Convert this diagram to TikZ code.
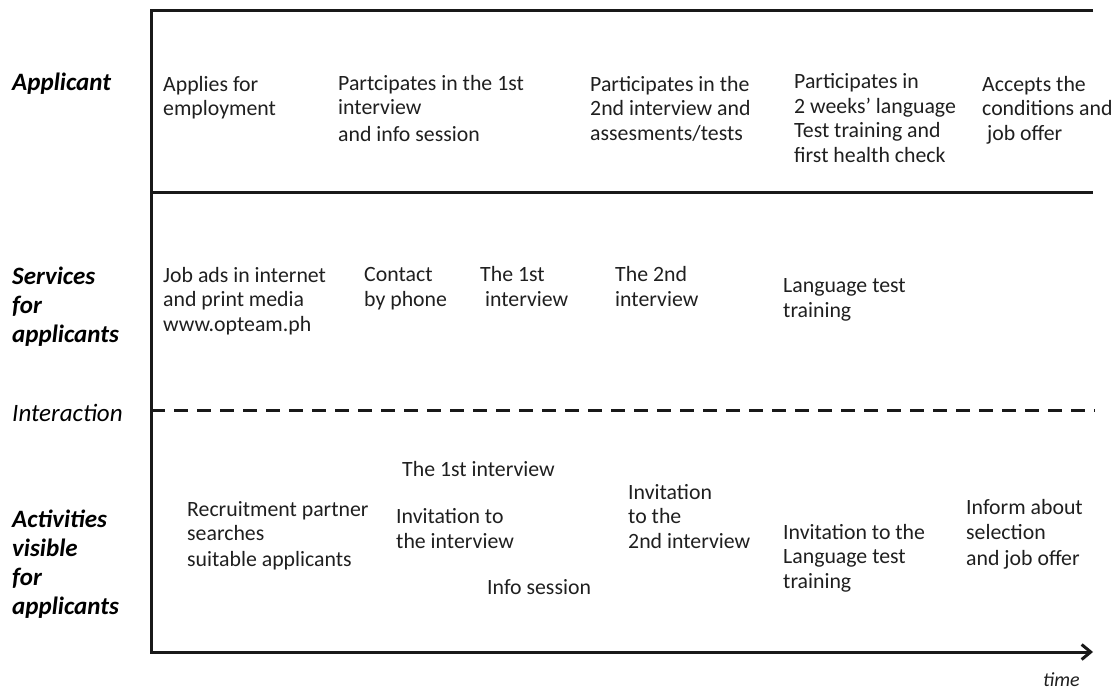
\documentclass[tikz,border=0pt]{standalone}
\usepackage{fontspec}
\setmainfont{Carlito}
\usetikzlibrary{arrows.meta}

% every text is placed at the baseline of its last line
\tikzset{
  txt/.style={anchor=base west, inner sep=0pt, align=left, text=black!88, font=\fontsize{21.8}{24.5}\selectfont},
  lane/.style={anchor=base west, inner sep=0pt, align=left, font=\fontsize{25}{29}\selectfont\bfseries\itshape},
  frame/.style={line width=3pt, black!90},
}

\begin{document}
\begin{tikzpicture}[x=1pt, y=-1pt]
    \useasboundingbox (0,0) rectangle (1120,693);
    % lanes on the left
    \node[lane] (l1) at (12,91) {Applicant};
    \node[lane] (l2) at (12,342) {Services\\for\\applicants};
    \node[lane, font=\fontsize{25}{29}\selectfont\itshape] (l3) at (12,421) {Interaction};
    \node[lane] (l4) at (12,614) {Activities\\visible\\for\\applicants};
    % applicant
    \node[txt] (a1) at (163,116) {Applies for\\employment};
    \node[txt] (a2) at (338,141) {Partcipates in the 1st\\interview\\[2pt]and info session};
    \node[txt] (a3) at (590,140) {Participates in the\\2nd interview and\\assesments/tests};
    \node[txt] (a4) at (794,162) {Participates in\\2 weeks' language\\Test training and\\first health check};
    \node[txt] (a5) at (982,140) {Accepts the\\conditions and\\\ job offer};
    % services for applicants
    \node[txt] (s1) at (163,331) {Job ads in internet\\and print media\\www.opteam.ph};
    \node[txt] (s2) at (364,306) {Contact\\by phone};
    \node[txt] (s3) at (480,306) {The 1st\\\ interview};
    \node[txt] (s4) at (615,306) {The 2nd\\interview};
    \node[txt] (s5) at (783,317) {Language test\\training};
    % activities visible for applicants
    \node[txt] (v1) at (187,566) {Recruitment partner\\searches\\[1pt]suitable applicants};
    \node[txt] (v2) at (402,476) {The 1st interview};
    \node[txt] (v3) at (396,548) {Invitation to\\the interview};
    \node[txt] (v4) at (487,594) {Info session};
    \node[txt] (v5) at (628,548) {Invitation\\to the\\2nd interview};
    \node[txt] (v6) at (783,588) {Invitation to the\\Language test\\training};
    \node[txt] (v7) at (966,565) {Inform about\\[1pt]selection\\[1pt]and job offer};
    \node[txt, font=\fontsize{20}{24}\selectfont\itshape] (t) at (1043,686) {time};
    % frame and time axis
    \coordinate (tl) at (151,11);
    \coordinate (tr) at (1093,11);
    \coordinate (ml) at (151,192);
    \coordinate (mr) at (1093,192);
    \coordinate (il) at (151,410);
    \coordinate (ir) at (1095,410);
    \coordinate (bl) at (151,652);
    \coordinate (br) at (1093,652);
    \draw[frame, -{Straight Barb[length=9pt, width=15pt]}] (tr) -- (tl) -- (bl) -- (br);
    \draw[frame] (ml) -- (mr);
    \draw[frame, dash pattern=on 14pt off 9pt] (il) -- (ir);
\end{tikzpicture}
\end{document}
